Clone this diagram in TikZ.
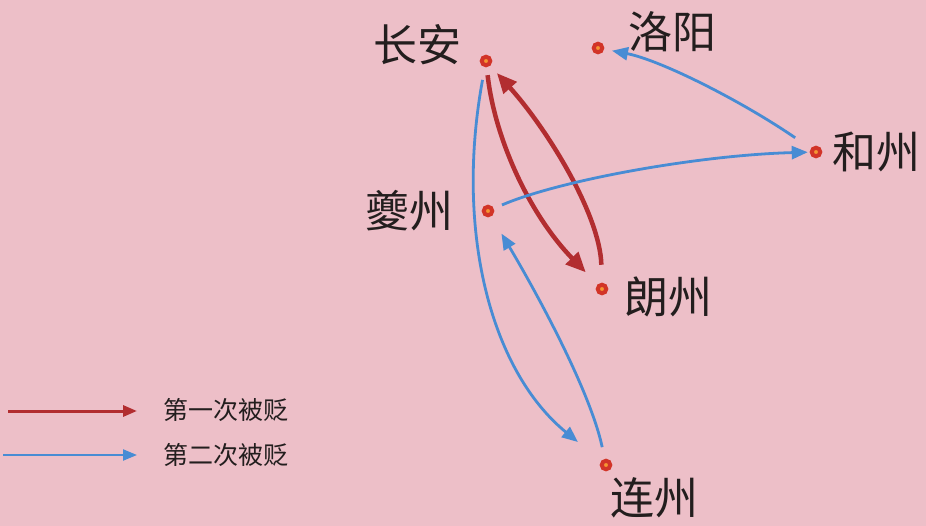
\documentclass[tikz,border=0pt]{standalone}
\usepackage{fontspec}
\newfontfamily\cjk{Noto Sans CJK SC}
\usetikzlibrary{arrows.meta}
\definecolor{bgpink}{RGB}{237,191,200}
\definecolor{firstred}{RGB}{178,45,48}
\definecolor{secondblue}{RGB}{72,140,212}
\definecolor{dotred}{RGB}{210,52,40}
\definecolor{dotorange}{RGB}{245,150,50}
\definecolor{inkgray}{RGB}{35,30,30}
\begin{document}
\begin{tikzpicture}[x=1pt, y=-1pt,
    city/.style={circle, draw=dotred, line width=4pt, fill=dotorange, minimum size=8.5pt, inner sep=0pt},
    place/.style={text=inkgray, font=\cjk\fontsize{44}{44}\selectfont},
    legendtext/.style={text=inkgray, font=\cjk\fontsize{25}{25}\selectfont, anchor=west},
    first/.style={draw=firstred, line width=4.5pt, -{Triangle[length=20pt, width=17pt]}},
    second/.style={draw=secondblue, line width=2.8pt, -{Triangle[length=16pt, width=13pt]}}]
    \fill[bgpink] (0,0) rectangle (926,526);
    \useasboundingbox (0,0) rectangle (926,526);
    \node[city] (changan) at (486,61) {};
    \node[city] (luoyang) at (598,48) {};
    \node[city] (hezhou) at (816,152) {};
    \node[city] (kuizhou) at (488,211) {};
    \node[city] (langzhou) at (602,289) {};
    \node[city] (lianzhou) at (606,465) {};
    \node[place] at (417,45) {长安};
    \node[place] at (672,32) {洛阳};
    \node[place] at (876,152) {和州};
    \node[place] at (409,211) {夔州};
    \node[place] at (668,297) {朗州};
    \node[place] at (654,498) {连州};
    \draw[first, shorten <=8pt, shorten >=17pt]
        (changan) .. controls (495,140) and (530,215) .. (langzhou);
    \draw[first, shorten <=18pt, shorten >=10pt]
        (langzhou) .. controls (600,215) and (548,130) .. (changan);
    \draw[second, shorten <=13pt, shorten >=30pt]
        (changan) .. controls (455,230) and (490,370) .. (lianzhou);
    \draw[second, shorten <=12pt, shorten >=20pt]
        (lianzhou) .. controls (590,390) and (535,290) .. (kuizhou);
    \draw[second, shorten <=9pt, shorten >=2pt]
        (kuizhou) .. controls (560,180) and (700,155) .. (hezhou);
    \draw[second, shorten <=19pt, shorten >=8pt]
        (hezhou) .. controls (740,100) and (660,60) .. (luoyang);
    \coordinate (firsttail) at (8,411);
    \coordinate (firsthead) at (137,411);
    \coordinate (secondtail) at (3,455);
    \coordinate (secondhead) at (137,455);
    \draw[first, line width=3pt, -{Triangle[length=14pt, width=11pt]}] (firsttail) -- (firsthead);
    \draw[second, line width=2.2pt, -{Triangle[length=14pt, width=11pt]}] (secondtail) -- (secondhead);
    \node[legendtext] (firstlabel) at (160,410) {第一次被贬};
    \node[legendtext] (secondlabel) at (160,455) {第二次被贬};
\end{tikzpicture}
\end{document}
